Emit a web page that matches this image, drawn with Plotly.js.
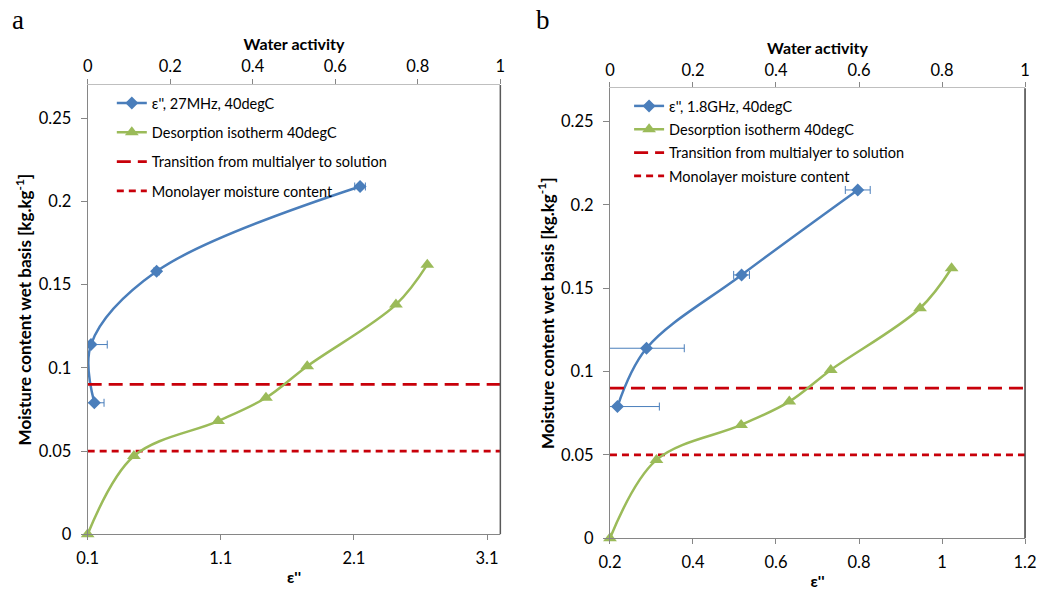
<!DOCTYPE html>
<html>
<head>
<meta charset="utf-8">
<script src="https://cdn.plot.ly/plotly-3.0.1.min.js"></script>
<style>
  html, body { margin: 0; padding: 0; background: #fff; }
  #chart { width: 1045px; height: 592px; }
</style>
</head>
<body>
<div id="chart"></div>
<script>
// Dielectric loss factor vs moisture content (wet basis)
const moisture = [0.079, 0.114, 0.158, 0.209];

// Panel a: 27 MHz
const epsLoss27MHz = [0.15, 0.125, 0.618, 2.146];
const epsErr27MHz = [0.073, 0.122, 0.02, 0.04];

// Panel b: 1.8 GHz
const epsLoss18GHz = [0.218, 0.288, 0.517, 0.797];
const epsErr18GHz = [0.101, 0.091, 0.019, 0.03];

// Desorption isotherm at 40 degC (water activity vs moisture content)
const waterActivity = [0, 0.112, 0.316, 0.432, 0.532, 0.747, 0.823];
const isothermMoisture = [0, 0.047, 0.068, 0.082, 0.101, 0.138, 0.162];

// Reference moisture levels
const transitionMoisture = 0.09;
const monolayerMoisture = 0.05;

// Axis extents
const epsRangeA = [0.1, 3.2];
const epsRangeB = [0.2, 1.2];
const awRange = [0, 1];
const mcRange = [0, 0.27];

const BLUE = '#4A7EBB';
const GREEN = '#9BBB59';
const RED = '#C8000A';
const AXIS = '#868686';
const FONT = 'Lato, "Open Sans", sans-serif';

function panelTraces(eps, err, label, xb, xt, ya, legendId, epsRange) {
  return [
    {
      x: eps, y: moisture, xaxis: xb, yaxis: ya,
      name: label, legend: legendId, legendgroup: legendId + 'e',
      mode: 'lines+markers', type: 'scatter',
      line: { color: BLUE, width: 2.5, shape: 'spline', smoothing: 1 },
      marker: { symbol: 'diamond', size: 10, color: BLUE },
      error_x: { type: 'data', array: err, visible: true, color: BLUE, thickness: 1, width: 4 }
    },
    {
      x: waterActivity, y: isothermMoisture, xaxis: xt, yaxis: ya,
      name: 'Desorption isotherm 40degC', legend: legendId, legendgroup: legendId + 'd',
      mode: 'lines+markers', type: 'scatter', cliponaxis: false,
      line: { color: GREEN, width: 2.5, shape: 'spline', smoothing: 1 },
      marker: { symbol: 'triangle-up', size: 12, color: GREEN }
    },
    {
      x: epsRange, y: [transitionMoisture, transitionMoisture], xaxis: xb, yaxis: ya,
      name: 'Transition from multialyer to solution', legend: legendId, legendgroup: legendId + 't',
      mode: 'lines', type: 'scatter',
      line: { color: RED, width: 2.75, dash: '14px,7px' }
    },
    {
      x: epsRange, y: [monolayerMoisture, monolayerMoisture], xaxis: xb, yaxis: ya,
      name: 'Monolayer moisture content', legend: legendId, legendgroup: legendId + 'm',
      mode: 'lines', type: 'scatter',
      line: { color: RED, width: 2.75, dash: '7px,5px' }
    }
  ];
}

const data = [
  ...panelTraces(epsLoss27MHz, epsErr27MHz, 'ε\'\', 27MHz, 40degC', 'x', 'x2', 'y', 'legend', epsRangeA),
  ...panelTraces(epsLoss18GHz, epsErr18GHz, 'ε\'\', 1.8GHz, 40degC', 'x3', 'x4', 'y2', 'legend2', epsRangeB)
];

const tickFont = { family: FONT, size: 16.5, color: '#000' };
const titleFont = { family: FONT, size: 16, color: '#000', weight: 'bold' };

function bottomAxis(domain, range, tick0, dtick, anchor) {
  return {
    domain: domain, range: range, anchor: anchor, side: 'bottom',
    tick0: tick0, dtick: dtick, ticks: 'outside', ticklen: 5, tickcolor: AXIS,
    showline: true, linecolor: AXIS, linewidth: 1, showgrid: false, zeroline: false,
    tickfont: tickFont, ticklabelstandoff: 4,
    title: { text: 'ε\'\'', font: titleFont, standoff: 4 }
  };
}
function topAxis(overlay, anchor) {
  return {
    overlaying: overlay, anchor: anchor, side: 'top', range: awRange,
    tick0: 0, dtick: 0.2, ticks: 'outside', ticklen: 5, tickcolor: AXIS,
    showline: true, linecolor: '#BFBFBF', linewidth: 1, showgrid: false, zeroline: false,
    tickfont: tickFont,
    title: { text: 'Water activity', font: titleFont, standoff: 1 }
  };
}
function yAxis(domain, anchor) {
  return {
    domain: domain, range: mcRange, anchor: anchor,
    tick0: 0, dtick: 0.05, ticks: 'outside', ticklen: 6, tickcolor: AXIS,
    showline: true, linecolor: AXIS, linewidth: 1, showgrid: false, zeroline: false,
    tickfont: tickFont, ticklabelstandoff: 6,
    title: { text: 'Moisture content wet basis [kg.kg<sup>-1</sup>]', font: { family: FONT, size: 17, color: '#000', weight: 'bold' }, standoff: 2 }
  };
}

const legendBase = {
  xanchor: 'left', yanchor: 'top', bgcolor: 'rgba(0,0,0,0)', borderwidth: 0,
  font: { family: FONT, size: 14.5, color: '#000' }, traceorder: 'grouped'
};

const layout = {
  width: 1045, height: 592,
  margin: { l: 0, r: 0, t: 0, b: 0 },
  paper_bgcolor: '#fff', plot_bgcolor: '#fff',
  showlegend: true,
  xaxis: bottomAxis([0.0839, 0.4788], epsRangeA, 0.1, 1, 'y'),
  xaxis2: topAxis('x', 'y'),
  yaxis: yAxis([0.0976, 0.8564], 'x'),
  xaxis3: bottomAxis([0.5837, 0.9809], epsRangeB, 0.2, 0.2, 'y2'),
  xaxis4: topAxis('x3', 'y2'),
  yaxis2: yAxis([0.0909, 0.8508], 'x3'),
  legend: Object.assign({}, legendBase, { x: 0.107, y: 0.853, tracegroupgap: 7.5 }),
  legend2: Object.assign({}, legendBase, { x: 0.602, y: 0.848, tracegroupgap: 1.5 }),
  shapes: [
    { type: 'line', xref: 'x domain', yref: 'y domain', x0: 1, x1: 1, y0: 0, y1: 1,
      line: { color: '#595959', width: 1.5 } },
    { type: 'line', xref: 'x3 domain', yref: 'y2 domain', x0: 1, x1: 1, y0: 0, y1: 1,
      line: { color: '#404040', width: 1.5 } }
  ],
  annotations: [
    { text: 'a', xref: 'paper', yref: 'paper', x: 10 / 1045, y: 1 - 20 / 592,
      xanchor: 'left', yanchor: 'middle', showarrow: false,
      font: { family: '"Liberation Serif", "Times New Roman", serif', size: 27, color: '#000' } },
    { text: 'b', xref: 'paper', yref: 'paper', x: 534 / 1045, y: 1 - 20 / 592,
      xanchor: 'left', yanchor: 'middle', showarrow: false,
      font: { family: '"Liberation Serif", "Times New Roman", serif', size: 27, color: '#000' } }
  ]
};

Plotly.newPlot('chart', data, layout, { displayModeBar: false, staticPlot: true });
</script>
</body>
</html>
